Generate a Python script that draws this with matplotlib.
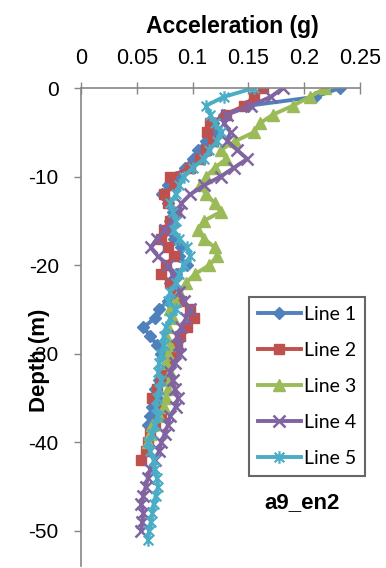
import matplotlib
matplotlib.use("Agg")
import matplotlib.pyplot as plt
from matplotlib.path import Path

# Depth of each recording station (m), shared by all lines
depth_m = [0, -1, -2, -3, -4, -5, -6, -7, -8, -9, -10, -11, -12, -13, -14, -15,
           -16, -17, -18, -19, -20, -21, -22, -23, -24, -25, -26, -27, -28, -29,
           -30, -31, -32, -33, -34, -35, -36, -37, -38, -39, -40, -41, -42, -43,
           -44, -45, -46, -47, -48, -49, -50, -51]

# Peak acceleration (g) for each line, from the surface downward
line1 = [0.232, 0.21, 0.15, 0.128, 0.118, 0.122, 0.112, 0.105, 0.1, 0.093,
         0.085, 0.078, 0.073, 0.078, 0.082, 0.08, 0.076, 0.083, 0.09, 0.088,
         0.095, 0.085, 0.08, 0.084, 0.078, 0.07, 0.066, 0.056, 0.062, 0.068,
         0.072, 0.078, 0.074, 0.07, 0.066, 0.068, 0.064, 0.062, 0.06]
line2 = [0.163, 0.155, 0.146, 0.13, 0.116, 0.113, 0.118, 0.112, 0.107, 0.098,
         0.08, 0.084, 0.074, 0.078, 0.085, 0.08, 0.074, 0.072, 0.078, 0.083,
         0.076, 0.072, 0.08, 0.086, 0.09, 0.098, 0.101, 0.095, 0.089, 0.086,
         0.083, 0.08, 0.076, 0.072, 0.068, 0.064, 0.07, 0.072, 0.066, 0.062,
         0.06, 0.058, 0.054]
line3 = [0.219, 0.205, 0.19, 0.172, 0.16, 0.155, 0.138, 0.125, 0.13, 0.12,
         0.112, 0.107, 0.112, 0.12, 0.125, 0.11, 0.105, 0.11, 0.12, 0.122,
         0.115, 0.102, 0.094, 0.088, 0.084, 0.08, 0.082, 0.078, 0.076, 0.08,
         0.078, 0.076, 0.08, 0.08, 0.078, 0.076, 0.074, 0.07, 0.064, 0.062,
         0.06]
line4 = [0.181, 0.17, 0.152, 0.131, 0.128, 0.134, 0.131, 0.14, 0.149, 0.137,
         0.125, 0.11, 0.098, 0.09, 0.088, 0.082, 0.075, 0.068, 0.0625, 0.069,
         0.078, 0.082, 0.085, 0.088, 0.092, 0.098, 0.094, 0.09, 0.086, 0.088,
         0.089, 0.084, 0.08, 0.082, 0.084, 0.087, 0.085, 0.08, 0.078, 0.075,
         0.072, 0.07, 0.066, 0.062, 0.06, 0.058, 0.056, 0.054, 0.056, 0.055,
         0.054]
line5 = [0.155, 0.128, 0.112, 0.116, 0.12, 0.125, 0.122, 0.115, 0.11, 0.1,
         0.092, 0.088, 0.085, 0.08, 0.082, 0.085, 0.083, 0.088, 0.095, 0.098,
         0.092, 0.088, 0.085, 0.08, 0.078, 0.085, 0.08, 0.076, 0.074, 0.074,
         0.072, 0.07, 0.069, 0.072, 0.07, 0.068, 0.067, 0.069, 0.066, 0.064,
         0.06, 0.062, 0.065, 0.066, 0.068, 0.069, 0.067, 0.065, 0.064, 0.0625,
         0.061, 0.06]

series_names = ["Line 1", "Line 2", "Line 3", "Line 4", "Line 5"]
series_values = [line1, line2, line3, line4, line5]

x_ticks = [0, 0.05, 0.1, 0.15, 0.2, 0.25]
x_tick_labels = ["0", "0.05", "0.1", "0.15", "0.2", "0.25"]
y_ticks = [0, -10, -20, -30, -40, -50]
y_tick_labels = ["0", "-10", "-20", "-30", "-40", "-50"]

# Asterisk marker: an X crossed by a vertical stroke
asterisk = Path(
    [(-1, -1), (1, 1), (-1, 1), (1, -1), (0, -1.3), (0, 1.3)],
    [Path.MOVETO, Path.LINETO, Path.MOVETO, Path.LINETO, Path.MOVETO, Path.LINETO],
)

styles = [
    dict(color="#4F81BD", marker="D", ms=6.5, mew=1.0),
    dict(color="#C0504D", marker="s", ms=7.0, mew=1.0),
    dict(color="#9BBB59", marker="^", ms=8.0, mew=1.0),
    dict(color="#8064A2", marker="x", ms=8.5, mew=1.8),
    dict(color="#4BACC6", marker=asterisk, ms=9.0, mew=1.6),
]

fig = plt.figure(figsize=(3.86, 5.68), dpi=100)
fig.patch.set_facecolor("white")

W, H = 386.0, 568.0
ax_left, ax_right, ax_top = 81, 360, 88
y_min = -54.0
px_per_m = 8.86
ax_bottom = ax_top + (-y_min) * px_per_m
ax = fig.add_axes([ax_left / W, 1 - ax_bottom / H,
                   (ax_right - ax_left) / W, (ax_bottom - ax_top) / H])

for name, vals, st in zip(series_names, series_values, styles):
    ax.plot(vals, depth_m[:len(vals)], label=name, color=st["color"],
            lw=2.8, marker=st["marker"], markersize=st["ms"],
            markeredgewidth=st["mew"], markerfacecolor=st["color"],
            markeredgecolor=st["color"], solid_joinstyle="round")

ax.set_xlim(0, 0.25)
ax.set_ylim(y_min, 0)

axis_gray = "#868686"
for side in ("bottom", "right"):
    ax.spines[side].set_visible(False)
for side in ("top", "left"):
    ax.spines[side].set_color(axis_gray)
    ax.spines[side].set_linewidth(1.2)

ax.xaxis.set_ticks_position("top")
ax.xaxis.set_label_position("top")
ax.set_xticks(x_ticks)
ax.set_xticklabels(x_tick_labels, fontfamily="Liberation Sans", fontsize=15.5)
ax.tick_params(axis="x", direction="inout", length=8, width=1.0,
               color=axis_gray, pad=10)
ax.set_yticks(y_ticks)
ax.set_yticklabels(y_tick_labels, fontfamily="Liberation Sans", fontsize=15)
ax.tick_params(axis="y", direction="out", length=5, width=1.0,
               color=axis_gray, pad=11)

fig.text(232 / W, 1 - 26 / H, "Acceleration (g)", ha="center", va="center",
         fontfamily="Liberation Sans", fontweight="bold", fontsize=16.5)
fig.text(40 / W, 1 - 360 / H, "Depth (m)", ha="center", va="center",
         rotation=90, fontfamily="Liberation Sans", fontweight="bold",
         fontsize=16)

leg = ax.legend(loc="upper left", bbox_to_anchor=(249 / W, 1 - 297 / H),
                bbox_transform=fig.transFigure, borderaxespad=0,
                prop={"family": "Lato", "size": 14}, frameon=True,
                fancybox=False, edgecolor="#404040", handlelength=2.2,
                handletextpad=0.2, labelspacing=0.98, borderpad=0.45)
leg.get_frame().set_linewidth(1.5)

fig.text(302 / W, 1 - 503 / H, "a9_en2", ha="center", va="center",
         fontfamily="Liberation Sans", fontweight="bold", fontsize=16)

fig.savefig("out.png", dpi=100, facecolor="white")
